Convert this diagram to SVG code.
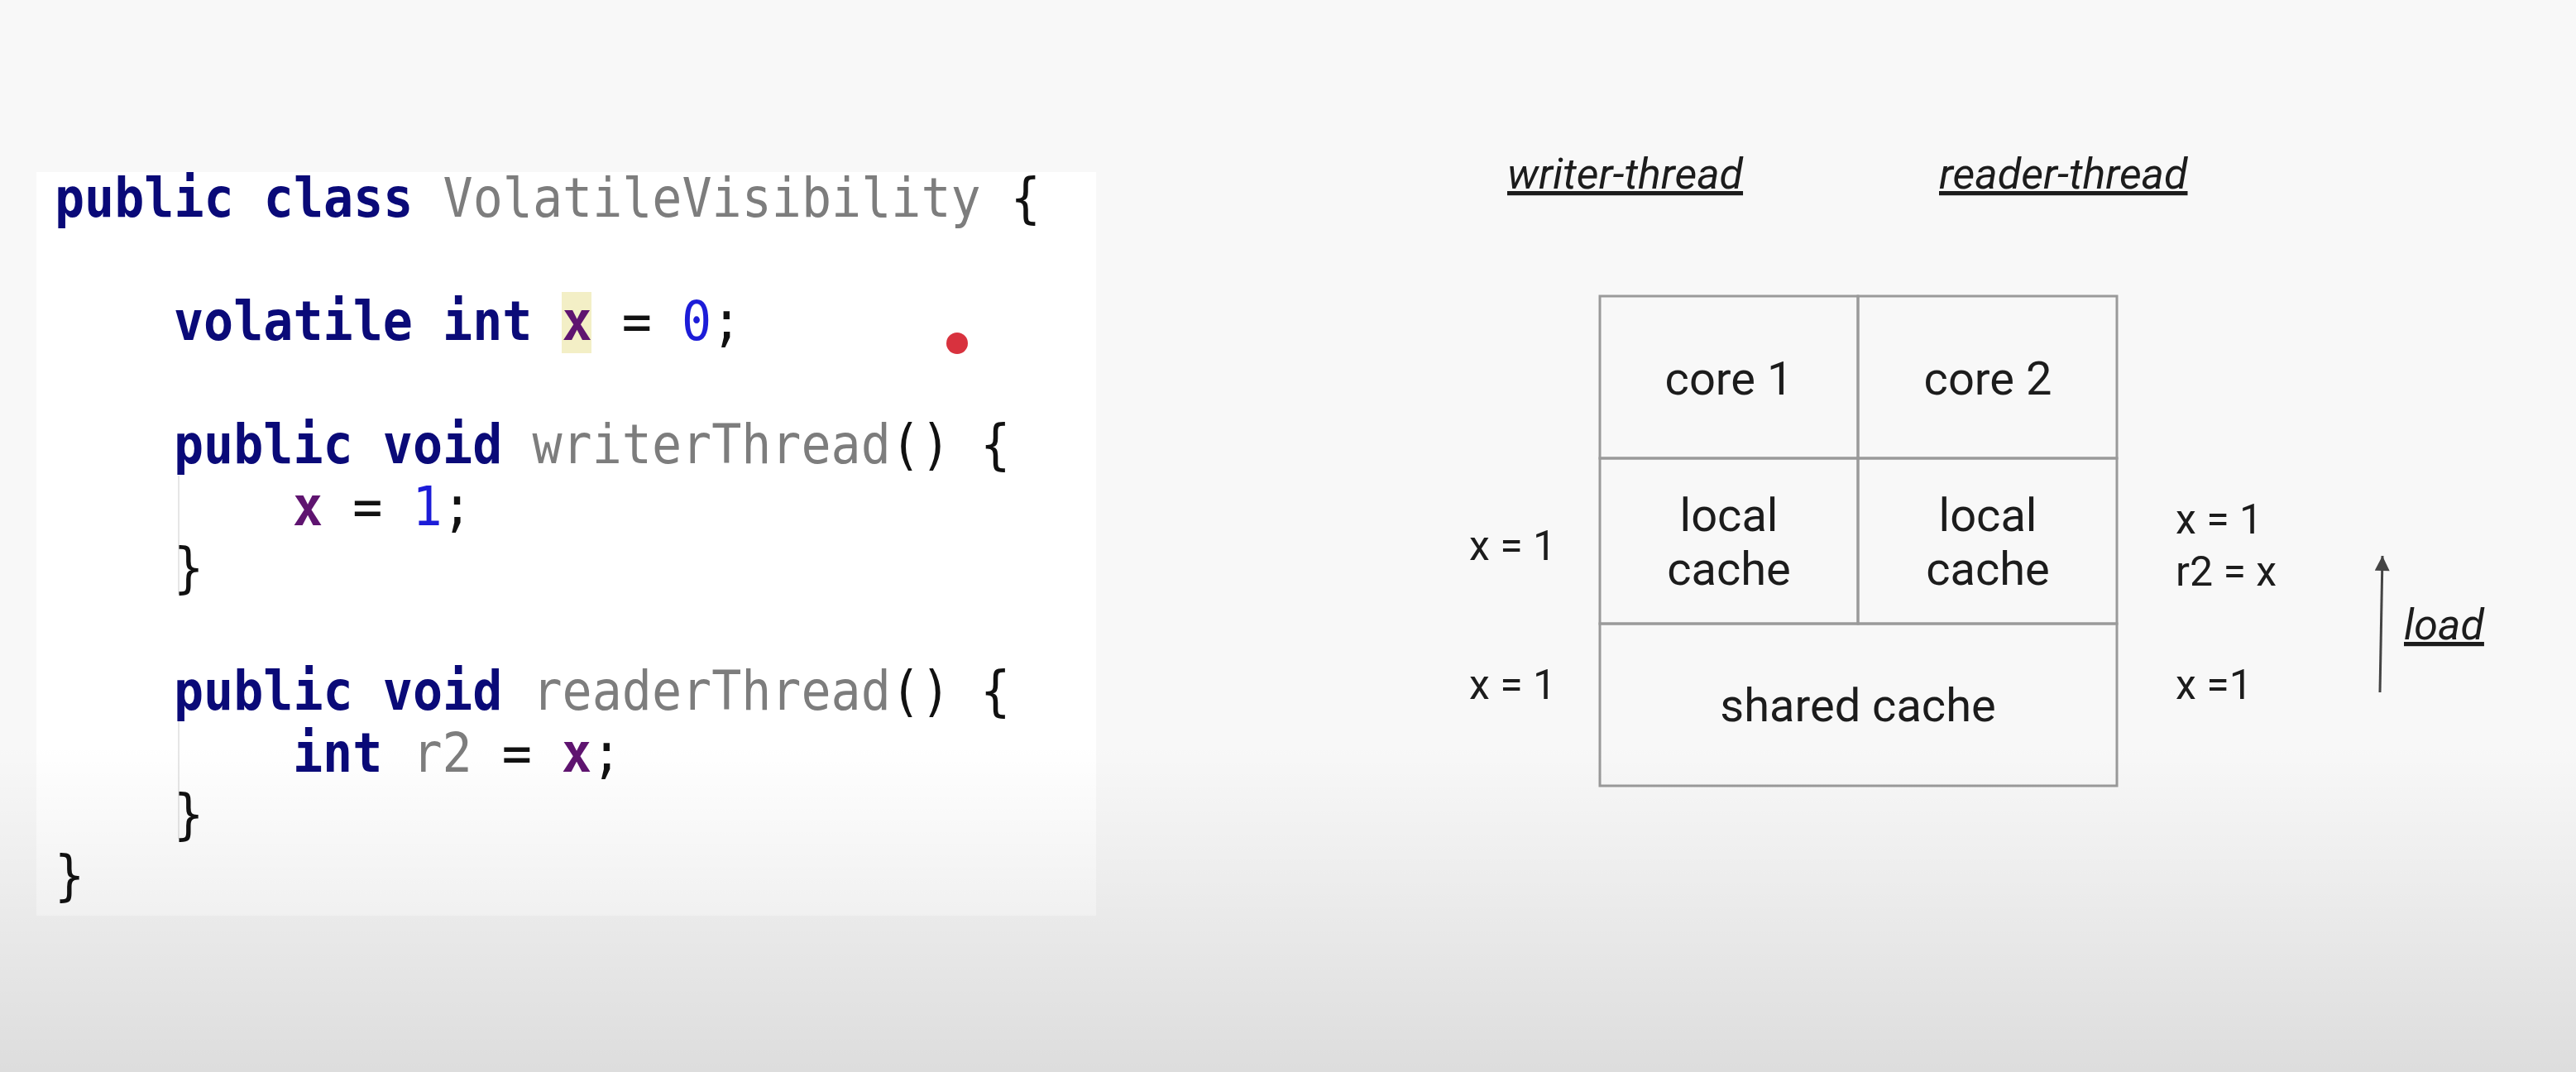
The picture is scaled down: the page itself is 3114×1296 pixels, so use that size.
<svg xmlns="http://www.w3.org/2000/svg" width="3114" height="1296" viewBox="0 0 3114 1296">
<defs>
  <linearGradient id="shade" x1="0" y1="0" x2="0" y2="1">
    <stop offset="0" stop-color="#000" stop-opacity="0"/>
    <stop offset="1" stop-color="#000" stop-opacity="0.11"/>
  </linearGradient>
  <marker id="ah" viewBox="0 0 10 10" refX="10" refY="5" markerWidth="8" markerHeight="6" markerUnits="strokeWidth" orient="auto">
    <path d="M0,0 L10,5 L0,10 z" fill="#444"/>
  </marker>
</defs>
<style>
  .code { font-family: "DejaVu Sans Mono", monospace; font-size: 60px; }
  .kw { fill: #0a0a78; font-weight: bold; }
  .id { fill: #7d7d7d; }
  .fld { fill: #5f1470; font-weight: bold; }
  .num { fill: #1c1cd8; }
  .pn { fill: #111; }
  .cell { fill: none; stroke: #9a9a9a; stroke-width: 3; }
  .lbl { font-family: Roboto, "Liberation Sans", sans-serif; fill: #1c1c1c; }
  .celltxt { font-size: 56px; text-anchor: middle; }
  .side { font-size: 50px; }
  .hdr { font-size: 52px; font-style: italic; text-decoration: underline; }
  .guide { stroke: #e6e6e6; stroke-width: 2; }
</style>
<rect x="0" y="0" width="3114" height="1296" fill="#f8f8f8"/>

<g id="code-panel" xml:space="preserve">
  <rect x="44" y="208" width="1281" height="899" fill="#ffffff"/>
  <line class="guide" x1="216" y1="575" x2="216" y2="718"/>
  <line class="guide" x1="216" y1="872" x2="216" y2="1014"/>
  <rect x="679" y="353" width="36" height="74" fill="#f3efc6"/>
  <circle cx="1157" cy="415" r="13" fill="#d8323e"/>
  <text class="code" transform="translate(66,262) scale(1,1.1)"><tspan class="kw">public class</tspan> <tspan class="id">VolatileVisibility</tspan> <tspan class="pn">{</tspan></text>
  <text class="code" transform="translate(210,411) scale(1,1.1)"><tspan class="kw">volatile int</tspan> <tspan class="fld">x</tspan><tspan class="pn"> = </tspan><tspan class="num">0</tspan><tspan class="pn">;</tspan></text>
  <text class="code" transform="translate(210,560) scale(1,1.1)"><tspan class="kw">public void</tspan> <tspan class="id">writerThread</tspan><tspan class="pn">() {</tspan></text>
  <text class="code" transform="translate(354,635) scale(1,1.1)"><tspan class="fld">x</tspan><tspan class="pn"> = </tspan><tspan class="num">1</tspan><tspan class="pn">;</tspan></text>
  <text class="code" transform="translate(210,709) scale(1,1.1)"><tspan class="pn">}</tspan></text>
  <text class="code" transform="translate(210,858) scale(1,1.1)"><tspan class="kw">public void</tspan> <tspan class="id">readerThread</tspan><tspan class="pn">() {</tspan></text>
  <text class="code" transform="translate(354,933) scale(1,1.1)"><tspan class="kw">int</tspan> <tspan class="id">r2</tspan><tspan class="pn"> = </tspan><tspan class="fld">x</tspan><tspan class="pn">;</tspan></text>
  <text class="code" transform="translate(210,1007) scale(1,1.1)"><tspan class="pn">}</tspan></text>
  <text class="code" transform="translate(66,1081) scale(1,1.1)"><tspan class="pn">}</tspan></text>
</g>

<g id="header-writer"><text class="lbl hdr" x="1822" y="228">writer-thread</text></g>
<g id="header-reader"><text class="lbl hdr" x="2344" y="228">reader-thread</text></g>

<g id="core1">
  <rect class="cell" x="1934" y="358" width="312" height="196"/>
  <text class="lbl celltxt" x="2090" y="477">core 1</text>
</g>
<g id="core2">
  <rect class="cell" x="2246" y="358" width="313" height="196"/>
  <text class="lbl celltxt" x="2403" y="477">core 2</text>
</g>
<g id="local-cache-1">
  <rect class="cell" x="1934" y="554" width="312" height="200"/>
  <text class="lbl celltxt" x="2090" y="642">local</text>
  <text class="lbl celltxt" x="2090" y="707">cache</text>
</g>
<g id="local-cache-2">
  <rect class="cell" x="2246" y="554" width="313" height="200"/>
  <text class="lbl celltxt" x="2403" y="642">local</text>
  <text class="lbl celltxt" x="2403" y="707">cache</text>
</g>
<g id="shared-cache">
  <rect class="cell" x="1934" y="754" width="625" height="196"/>
  <text class="lbl celltxt" x="2246" y="872">shared cache</text>
</g>

<g id="writer-values">
  <text class="lbl side" x="1776" y="677">x = 1</text>
  <text class="lbl side" x="1776" y="845">x = 1</text>
</g>
<g id="reader-values">
  <text class="lbl side" x="2630" y="645">x = 1</text>
  <text class="lbl side" x="2630" y="708">r2 = x</text>
  <text class="lbl side" x="2630" y="845">x =1</text>
</g>

<g id="connectors">
  <line x1="2877" y1="837" x2="2880" y2="672" stroke="#444" stroke-width="3" marker-end="url(#ah)"/>
  <text class="lbl hdr" x="2906" y="773">load</text>
</g>

<rect x="0" y="900" width="3114" height="396" fill="url(#shade)"/>
</svg>
